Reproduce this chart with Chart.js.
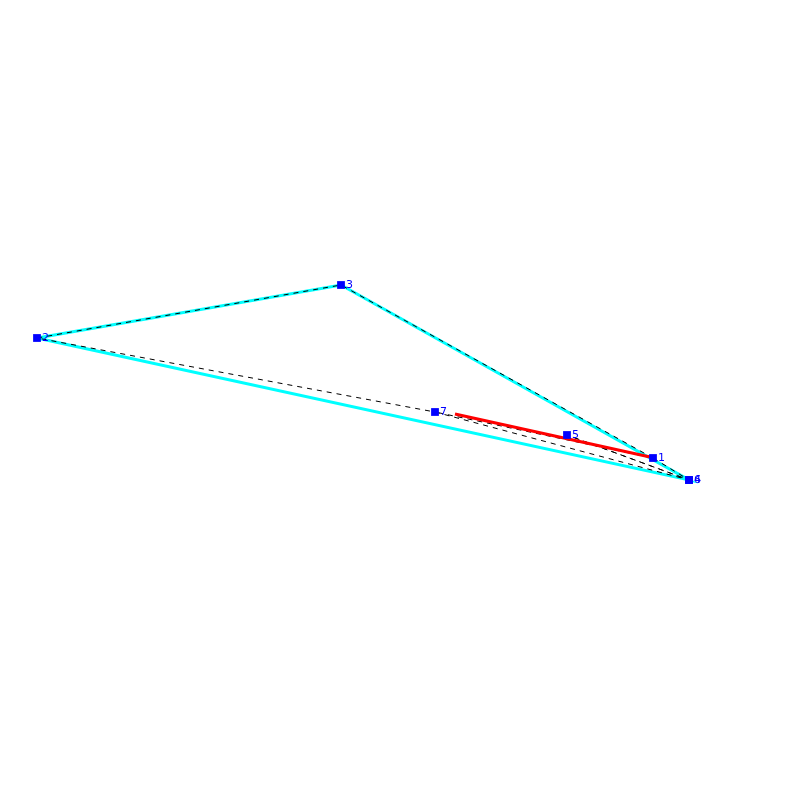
<!DOCTYPE html>
<html>
<head>
<meta charset="utf-8">
<title>Tour</title>
<script src="https://cdn.jsdelivr.net/npm/chart.js@4"></script>
<style>
    html, body { margin: 0; padding: 0; background: #fff; }
    canvas { display: block; }
</style>
</head>
<body>
<canvas id="tourChart" width="800" height="800"></canvas>
<script>
const nodeLabels = ['1', '2', '3', '4', '5', '6', '7'];
const nodeX = [653, 37, 341, 689, 567, 689, 435];
const nodeY = [342, 462, 515, 320, 365, 320, 388];

// visiting orders, as node numbers
const dashedTour = [1, 3, 2, 7, 6, 5, 4, 1, 7];
const cyanTour = [2, 3, 4, 2];

const redX = [455, 650];
const redY = [386, 343];

const tourPoints = (tour) => tour.map((n) => ({ x: nodeX[n - 1], y: nodeY[n - 1] }));

const nodeLabelPlugin = {
    id: 'nodeLabels',
    afterDatasetsDraw(chart) {
        const ctx = chart.ctx;
        const meta = chart.getDatasetMeta(0);
        ctx.save();
        ctx.fillStyle = '#0000ff';
        ctx.font = '11px "DejaVu Sans"';
        ctx.textBaseline = 'middle';
        meta.data.forEach((pt, i) => {
            ctx.fillText(nodeLabels[i], pt.x + 5, pt.y);
        });
        ctx.restore();
    }
};

new Chart(document.getElementById('tourChart').getContext('2d'), {
    type: 'scatter',
    data: {
        datasets: [
            {
                label: 'Nodes',
                data: nodeX.map((x, i) => ({ x: x, y: nodeY[i] })),
                showLine: false,
                pointStyle: 'rect',
                pointRadius: 5.5,
                pointBorderWidth: 0,
                pointBackgroundColor: '#0000ff',
                order: 0
            },
            {
                label: 'Red edge',
                data: redX.map((x, i) => ({ x: x, y: redY[i] })),
                showLine: true,
                borderColor: '#ff0000',
                borderWidth: 3,
                pointRadius: 0,
                order: 1
            },
            {
                label: 'Dashed tour',
                data: tourPoints(dashedTour),
                showLine: true,
                borderColor: '#000000',
                borderWidth: 1,
                borderDash: [5, 5],
                pointRadius: 0,
                order: 2
            },
            {
                label: 'Cyan tour',
                data: tourPoints(cyanTour),
                showLine: true,
                borderColor: '#00ffff',
                borderWidth: 3,
                pointRadius: 0,
                order: 3
            }
        ]
    },
    options: {
        responsive: false,
        animation: false,
        layout: { padding: 0, autoPadding: false },
        plugins: {
            legend: { display: false },
            tooltip: { enabled: false }
        },
        scales: {
            x: { type: 'linear', min: 0, max: 800, display: false },
            y: { type: 'linear', min: 0, max: 800, display: false }
        }
    },
    plugins: [nodeLabelPlugin]
});
</script>
</body>
</html>
